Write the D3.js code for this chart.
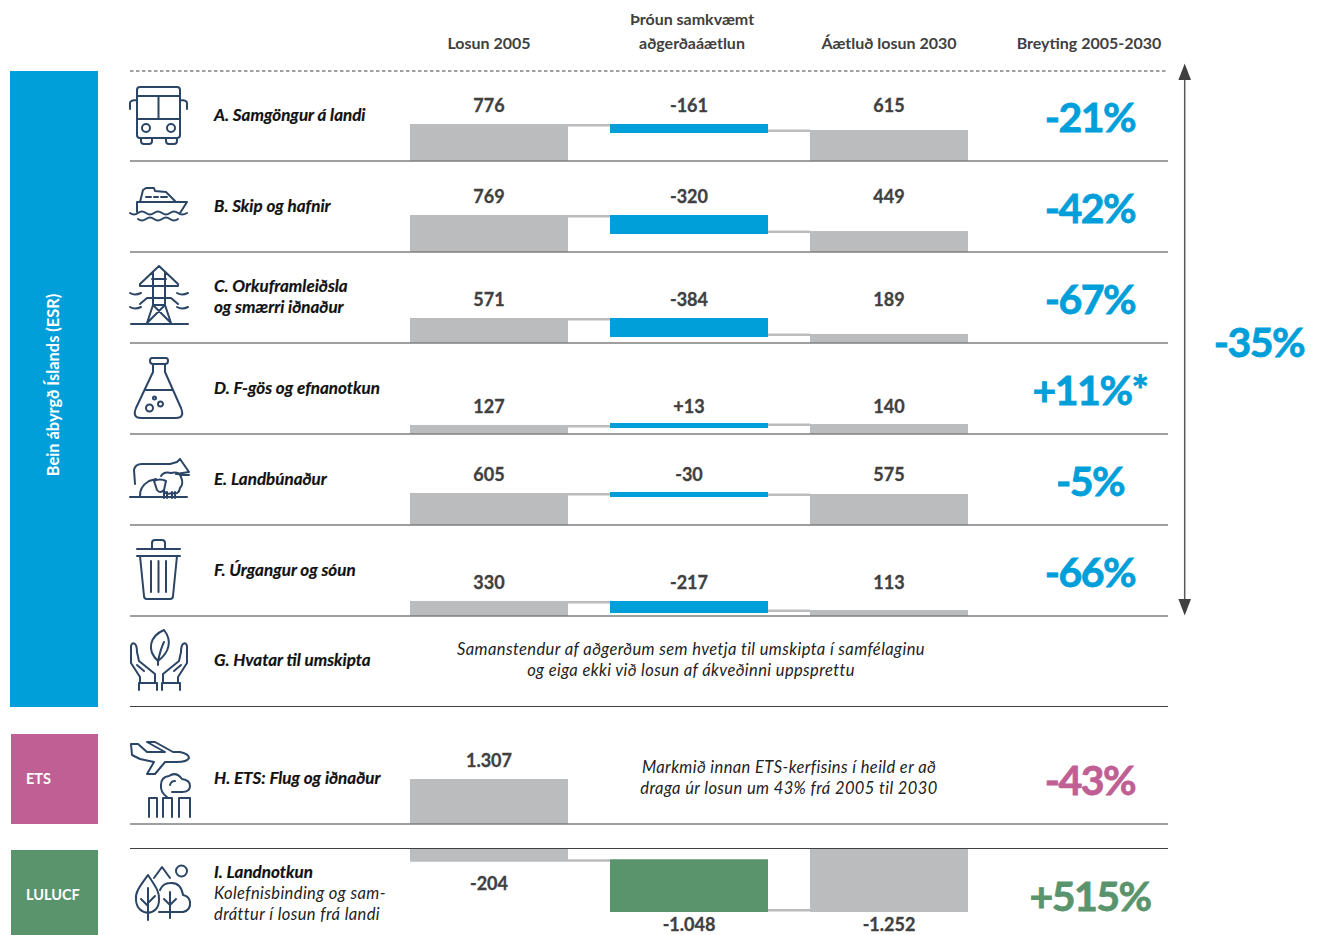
<!DOCTYPE html>
<html>
<head>
<meta charset="utf-8">
<script src="https://d3js.org/d3.v7.min.js"></script>
<style>
  html, body { margin: 0; padding: 0; background: #fff; }
  svg { display: block; }
  text { font-family: Lato, "Noto Sans", sans-serif; }
</style>
</head>
<body>
<div id="chart"></div>
<script>
// rows in the ESR block with numbers (G has none)
var rowNames = [
    ["A. Samgöngur á landi"],
    ["B. Skip og hafnir"],
    ["C. Orkuframleiðsla", "og smærri iðnaður"],
    ["D. F-gös og efnanotkun"],
    ["E. Landbúnaður"],
    ["F. Úrgangur og sóun"]
];
var labelsLosun2005 = ["776", "769", "571", "127", "605", "330"];
var labelsThroun = ["-161", "-320", "-384", "+13", "-30", "-217"];
var labelsAaetlud2030 = ["615", "449", "189", "140", "575", "113"];
var labelsBreyting = ["-21%", "-42%", "-67%", "+11%*", "-5%", "-66%"];

// the bars in the source are not quite to scale with the printed numbers,
// so their lengths are read off the bars themselves (same unit, kt CO2-eq.)
var barLosun2005 = [776, 776, 524, 189, 671, 315];
var barThrounTop = [776, 776, 524, 231, 692, 315];
var barThrounBottom = [587, 377, 126, 126, 587, 63];
var barAaetlud2030 = [650, 440, 189, 210, 650, 126];

// ETS and LULUCF rows, these are to scale within their own row
var etsLosun2005 = 1307;
var lulucfLosun2005 = -204;
var lulucfThroun = -1048;
var lulucfAaetlud2030 = -1252;

var headers = [
    {lines: ["Losun 2005"], x: 489},
    {lines: ["Þróun samkvæmt", "aðgerðaáætlun"], x: 692},
    {lines: ["Áætluð losun 2030"], x: 889},
    {lines: ["Breyting 2005-2030"], x: 1089}
];

var blue = "#009fda", pink = "#bf5f94", green = "#5a946d", grey = "#bbbcbe",
    rule = "#7f7f7f", dark = "#404041", navy = "#2b4566";

var width = 1318, height = 935;
var rowBase = [161, 252, 343, 434, 525, 616];
var barWidth = 158;
var colX = [410, 610, 810];
var colMid = colX.map(function (x) { return x + barWidth / 2; });
var band = 2.5; // thickness of the connector between the bars

var svg = d3.select("#chart").append("svg")
    .attr("width", width)
    .attr("height", height);

// one scale per block, value -> bar length in px
var yEsr = d3.scaleLinear().domain([0, 776]).range([0, 37]);
var yEts = d3.scaleLinear().domain([0, 1307]).range([0, 45]);
var yLulucf = d3.scaleLinear().domain([0, -1252]).range([0, 63]);

function addRect(x, y, w, h, colour) {
    return svg.append("rect").attr("x", x).attr("y", y).attr("width", w).attr("height", h).attr("fill", colour);
}

function addText(str, x, y, size, weight, colour, anchor, style) {
    return svg.append("text")
        .attr("x", x)
        .attr("y", y)
        .attr("dy", "0.35em")
        .attr("font-size", size)
        .attr("font-weight", weight)
        .attr("fill", colour)
        .attr("text-anchor", anchor || "middle")
        .attr("font-style", style || "normal")
        .text(str);
}

// the source font is heavier than Lato bold, a thin stroke makes up for it
function addValue(str, x, y) {
    return addText(str, x, y, 18, 700, dark).attr("stroke", dark).attr("stroke-width", 0.3);
}

function addPercent(str, x, y, colour) {
    return addText(str, x, y, 41, 700, colour)
        .attr("letter-spacing", -1.5)
        .attr("stroke", colour)
        .attr("stroke-width", 0.8);
}

function addName(str, y) {
    return addText(str, 214, y, 17, 700, "#111", "start", "italic").attr("stroke", "#111").attr("stroke-width", 0.2);
}

function addNote(str, x, y, anchor) {
    return addText(str, x, y, 16.5, 400, "#222", anchor, "italic").attr("letter-spacing", 0.4);
}

// coloured blocks at the left
addRect(10, 71, 88, 636, blue);
addRect(11, 734, 87, 90, pink);
addRect(11, 850, 87, 85, green);
svg.append("text")
    .attr("transform", "translate(53,385) rotate(-90)")
    .attr("dy", "0.35em")
    .attr("text-anchor", "middle")
    .attr("font-size", 16.4)
    .attr("font-weight", 700)
    .attr("fill", "#fff")
    .text("Bein ábyrgð Íslands (ESR)");
addText("ETS", 26, 779, 14.5, 700, "#fff", "start");
addText("LULUCF", 26, 895, 14.5, 700, "#fff", "start");

// column headers
headers.forEach(function (h) {
    h.lines.forEach(function (line, i) {
        addText(line, h.x, 43 - (h.lines.length - 1 - i) * 24, 16, 700, dark);
    });
});

// ESR bars
rowBase.forEach(function (base, i) {
    var startTop = base - yEsr(barLosun2005[i]);
    var endTop = base - yEsr(barAaetlud2030[i]);
    var changeTop = base - yEsr(barThrounTop[i]);
    var changeBottom = base - yEsr(barThrounBottom[i]);

    addRect(colX[0] + barWidth, startTop, colX[1] - colX[0] - barWidth, band, grey);
    addRect(colX[1] + barWidth, endTop - 0.5, colX[2] - colX[1] - barWidth, band, grey);
    addRect(colX[0], startTop, barWidth, base - startTop, grey);
    addRect(colX[1], changeTop, barWidth, changeBottom - changeTop, blue);
    addRect(colX[2], endTop, barWidth, base - endTop, grey);

    addValue(labelsLosun2005[i], colMid[0], startTop - 18.5);
    addValue(labelsThroun[i], colMid[1], startTop - 18.5);
    addValue(labelsAaetlud2030[i], colMid[2], startTop - 18.5);

    addPercent(labelsBreyting[i], 1090, base - 43, blue);

    rowNames[i].forEach(function (line, j) {
        var y = base - 46 + (j - (rowNames[i].length - 1) / 2) * 21 - (rowNames[i].length - 1) * 0.5;
        addName(line, y);
    });
});

// G row has only a note
addName("G. Hvatar til umskipta", 660);
addNote("Samanstendur af aðgerðum sem hvetja til umskipta í samfélaginu", 691, 649);
addNote("og eiga ekki við losun af ákveðinni uppsprettu", 691, 670);

// H row (ETS)
var etsBase = 824;
addRect(colX[0], etsBase - yEts(etsLosun2005), barWidth, yEts(etsLosun2005), grey);
addValue("1.307", colMid[0], etsBase - yEts(etsLosun2005) - 18.5);
addName("H. ETS: Flug og iðnaður", 778);
addNote("Markmið innan ETS-kerfisins í heild er að", 789, 767);
addNote("draga úr losun um 43% frá 2005 til 2030", 789, 788);
addPercent("-43%", 1090, 781, pink);

// I row (LULUCF), bars hang down from the line
var luBase = 849;
addRect(colX[0] + barWidth, luBase + yLulucf(lulucfLosun2005), colX[1] - colX[0] - barWidth, band, grey);
addRect(colX[1] + barWidth, luBase + yLulucf(lulucfAaetlud2030) - band - 0.5, colX[2] - colX[1] - barWidth, band, grey);
addRect(colX[0], luBase, barWidth, yLulucf(lulucfLosun2005) + band, grey);
addRect(colX[1], luBase + yLulucf(lulucfLosun2005), barWidth, yLulucf(lulucfThroun), green);
addRect(colX[2], luBase, barWidth, yLulucf(lulucfAaetlud2030), grey);
addValue("-204", colMid[0], 884);
addValue("-1.048", colMid[1], 925);
addValue("-1.252", colMid[2], 925);
addName("I. Landnotkun", 872);
addNote("Kolefnisbinding og sam-", 214, 893, "start");
addNote("dráttur í losun frá landi", 214, 914, "start");
addPercent("+515%", 1090, 897, green);

// horizontal rules
svg.append("line").attr("x1", 130).attr("x2", 1168).attr("y1", 71).attr("y2", 71)
    .attr("stroke", dark).attr("stroke-width", 1).attr("stroke-dasharray", "3.5 2.5");
rowBase.concat([etsBase]).forEach(function (y) {
    svg.append("line").attr("x1", 130).attr("x2", 1168).attr("y1", y).attr("y2", y)
        .attr("stroke", rule).attr("stroke-width", 1.5);
});
[707, luBase].forEach(function (y) {
    svg.append("line").attr("x1", 130).attr("x2", 1168).attr("y1", y - 0.5).attr("y2", y - 0.5)
        .attr("stroke", dark).attr("stroke-width", 1);
});

// double arrow and total
svg.append("line").attr("x1", 1184.7).attr("x2", 1184.7).attr("y1", 78).attr("y2", 602)
    .attr("stroke", "#58595b").attr("stroke-width", 1.5);
svg.append("path").attr("d", "M1184.7,63.5L1191,80H1178.4Z").attr("fill", dark);
svg.append("path").attr("d", "M1184.7,615.5L1191,599H1178.4Z").attr("fill", dark);
addPercent("-35%", 1259, 343, blue);

// line icons
var icons = [
    // bus
    "M140,87H177Q180,87 180,90V135Q180,138 177,138H140Q137,138 137,135V90Q137,87 140,87Z M137,96H180 M137,119H180 M158.5,96V119 M130,109V103Q130,100 137,100 M187,109V103Q187,100 180,100 M141,138V141Q141,144 144,144H149Q152,144 152,141V138 M166,138V141Q166,144 169,144H174Q177,144 177,141V138 M150,128A4,4 0 1 1 142,128A4,4 0 1 1 150,128Z M175,128A4,4 0 1 1 167,128A4,4 0 1 1 175,128Z",
    // ship
    "M137,212V202H187L180,213 M140,202L143,190L146,188H154L155,191L166,192L175,201 M146,197H151 M154,197H158 M161,197H167 M130,213Q134,216 138,213T146,213T154,213T162,213T170,213T178,213T187,213 M138,219Q142,222 146,219T154,219T162,219T170,219T178,219",
    // pylon
    "M159,266L140,284V286H178V284Z M153,272V305L147,323 M165,272V305L171,323 M140,304L147,298H171L178,304 M153,305H165 M153,305L171,323 M165,305L147,323 M131,324H188 M130,293Q135,296 141,293 M177,293Q182,296 188,293 M130,307Q135,310 141,307 M177,307Q182,310 188,307 M152,279H166",
    // flask
    "M152,358H166Q168,358 168,361Q168,364 165,364H153Q150,364 150,361Q150,358 152,358Z M153,364V372L136,408Q132,418 141,418H176Q185,418 181,408L165,372V364 M145,390H173 M153,408A3.5,3.5 0 1 1 146,408A3.5,3.5 0 1 1 153,408Z M163,404A2.5,2.5 0 1 1 158,404A2.5,2.5 0 1 1 163,404Z M156,398A1.5,1.5 0 1 1 153,398A1.5,1.5 0 1 1 156,398Z",
    // cow and sheep
    "M130,497H187 M135,484L134,470Q135,464 142,464H170L177,462L180,459L189,472L176,474 M189,475H181 M140,497Q139,487 149,481L156,479 M161,476Q164,471 171,473Q179,471 181,477Q184,484 180,488Q179,495 172,493Q166,495 164,491 M154,481Q160,478 166,481L164,490Q160,494 157,490Z M164,492V498 M167,492V498 M172,492V498 M175,492V498",
    // bin
    "M137,549H180 M152,549V543Q152,540 155,540H162Q165,540 165,543V549 M137,556H180 M140,556L144,596Q144,599 147,599H170Q173,599 173,596L177,556 M151,561V592 M158.5,561V592 M166,561V592",
    // hands and leaf
    "M164,630C150,636 146,650 158,661C170,652 172,640 164,630Z M158,661V665 M158,661C160,652 162,646 164,642 M140,682V677L131,663V646Q132,642 135,644Q137,646 137,652L139,661L155,674V682 M137,665L144,671 M139,690V683H157V690 M178,682V677L187,663V646Q186,642 183,644Q181,646 181,652L179,661L163,674V682 M181,665L174,671 M162,690V683H180V690",
    // plane
    "M131,744H138L147,752H165L147,742H155L173,752H180Q189,754 189,758Q187,762 177,762H165L155,774H147L154,762L140,759L132,755Z",
    // stacks and cloud
    "M149,817V798H157V817 M163,817V798H172V817 M179,817V798H190V817 M167,797Q160,792 161,785Q161,777 169,776Q176,771 182,779Q190,780 190,786Q190,792 182,792H172 M170,785Q171,781 175,781",
    // trees
    "M148,875C140,886 135,892 136,900C137,917 159,917 159,900C160,892 155,886 148,875Z M148,888V920 M148,906L141,899 M148,903L155,896 M154,878L162,867L170,878 M187,871A5.5,5.5 0 1 1 176,871A5.5,5.5 0 1 1 187,871Z M159,912H183Q191,910 190,902Q189,896 183,895Q181,882 170,883Q163,883 160,890 M170,892V918 M170,905L164,899 M170,905L176,899"
];
svg.append("g").selectAll("path")
    .data(icons)
    .enter()
    .append("path")
    .attr("d", function (d) { return d; })
    .attr("fill", "none")
    .attr("stroke", navy)
    .attr("stroke-width", 2)
    .attr("stroke-linejoin", "round")
    .attr("stroke-linecap", "round");
</script>
</body>
</html>
